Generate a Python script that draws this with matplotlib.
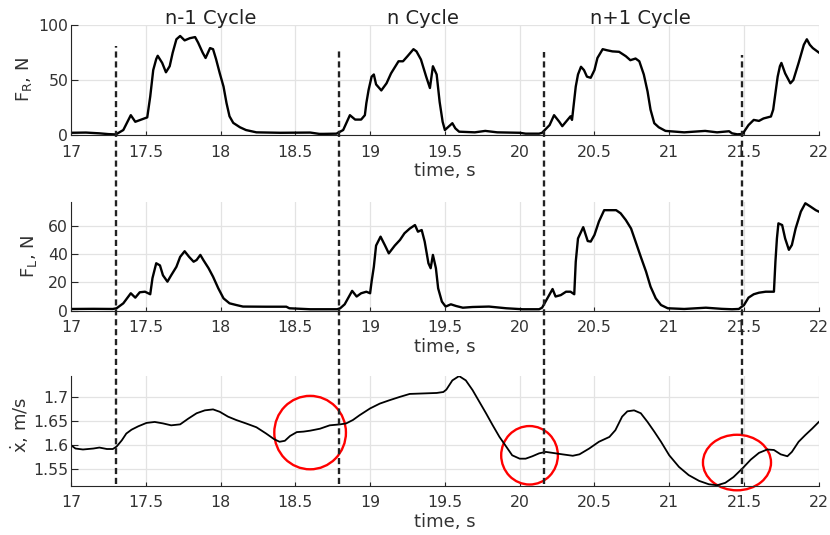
import matplotlib
matplotlib.use("Agg")
import matplotlib.pyplot as plt
from matplotlib.lines import Line2D
from matplotlib.patches import Ellipse
from matplotlib.transforms import blended_transform_factory

# fuerza pie derecho
t_fr = [17.0, 17.1, 17.19, 17.25, 17.3, 17.35, 17.40, 17.43, 17.47, 17.51, 17.53, 17.54, 17.55, 17.57, 17.58,
        17.61, 17.635, 17.66, 17.68, 17.705, 17.73, 17.76, 17.795, 17.83, 17.85, 17.88, 17.90, 17.93, 17.95,
        17.97, 17.995, 18.02, 18.04, 18.06, 18.085, 18.13, 18.17, 18.24, 18.4, 18.6, 18.66, 18.69, 18.775,
        18.82, 18.865, 18.90, 18.94, 18.965, 18.975, 18.99, 19.01, 19.025, 19.04, 19.075, 19.11, 19.14, 19.19,
        19.22, 19.25, 19.29, 19.31, 19.34, 19.375, 19.40, 19.42, 19.445, 19.465, 19.485, 19.50, 19.52, 19.55,
        19.57, 19.595, 19.7, 19.77, 19.85, 20.0, 20.04, 20.13, 20.15, 20.20, 20.23, 20.265, 20.285, 20.32,
        20.34, 20.35, 20.365, 20.375, 20.39, 20.41, 20.43, 20.45, 20.475, 20.50, 20.52, 20.555, 20.585, 20.62,
        20.665, 20.71, 20.74, 20.775, 20.80, 20.83, 20.855, 20.875, 20.90, 20.93, 20.975, 21.1, 21.24, 21.32,
        21.40, 21.42, 21.455, 21.49, 21.53, 21.565, 21.60, 21.63, 21.68, 21.695, 21.71, 21.725, 21.74, 21.75,
        21.775, 21.81, 21.83, 21.865, 21.90, 21.92, 21.94, 21.96, 22.0]
fr = [2, 2.2, 1.5, 0.8, 0.5, 4.5, 18, 12, 14, 16, 35, 47, 59, 69, 72,
      65.5, 57, 62.5, 74.7, 87, 90, 86, 88, 89, 84, 75, 70, 79, 78,
      69, 56, 44, 29, 17, 11, 7, 4.5, 2.4, 2, 2.2, 1, 1, 1.2,
      4.5, 18, 14, 14, 18, 29, 41, 53, 55, 46, 40.5, 47, 56, 67,
      67, 71.6, 78, 76, 68.6, 53, 42.7, 62.5, 55, 30, 12, 4.5, 7, 10.7,
      6, 3, 2.4, 3.7, 2.4, 2, 1.2, 1.2, 2, 9, 18, 12, 8, 13.7,
      17, 13.7, 32, 44, 55, 62, 59, 53, 52, 59, 70, 78, 77, 76,
      75.6, 71.6, 68, 69.5, 67, 55, 39.6, 23, 10.7, 7, 3.7, 2.4, 3.7, 2.4,
      3.4, 1.5, 0.6, 0.9, 9, 13.7, 12.8, 15, 16.8, 23, 38, 53, 62.5, 65.5,
      56, 47, 50, 65.5, 82, 87, 82, 79, 75]

# fuerza pie izquierdo
t_fl = [17.0, 17.15, 17.28, 17.305, 17.35, 17.40, 17.43, 17.46, 17.495, 17.53, 17.545, 17.57, 17.595, 17.615,
        17.645, 17.67, 17.705, 17.73, 17.76, 17.79, 17.82, 17.84, 17.865, 17.885, 17.92, 17.95, 17.985, 18.02,
        18.06, 18.105, 18.15, 18.3, 18.44, 18.46, 18.6, 18.78, 18.80, 18.83, 18.88, 18.91, 18.94, 18.975, 19.0,
        19.01, 19.025, 19.04, 19.07, 19.10, 19.125, 19.165, 19.20, 19.23, 19.265, 19.30, 19.32, 19.345, 19.365,
        19.39, 19.405, 19.42, 19.44, 19.455, 19.48, 19.505, 19.54, 19.575, 19.62, 19.685, 19.795, 19.91, 20.02,
        20.13, 20.15, 20.185, 20.22, 20.24, 20.275, 20.31, 20.34, 20.365, 20.375, 20.39, 20.425, 20.455, 20.475,
        20.50, 20.53, 20.565, 20.60, 20.645, 20.675, 20.71, 20.745, 20.775, 20.81, 20.845, 20.875, 20.91, 20.945,
        20.99, 21.1, 21.245, 21.35, 21.42, 21.465, 21.50, 21.53, 21.565, 21.60, 21.645, 21.70, 21.71, 21.72,
        21.73, 21.755, 21.775, 21.80, 21.82, 21.845, 21.88, 21.91, 21.945, 21.98, 22.0]
fl = [1.2, 1.3, 1.2, 1.7, 5.2, 12.3, 9.2, 13, 13.4, 11.6, 23, 33.5, 32, 25,
      20.5, 25, 31, 38, 42, 38, 34.6, 35.8, 39.4, 35.8, 30, 24, 15.8, 8.7,
      5.2, 4, 2.9, 2.8, 2.8, 1.7, 1, 1, 1.7, 4.5, 14, 10, 12.3, 13.4, 12.3,
      20.5, 31, 46, 52.3, 46, 40.5, 46, 50, 54.7, 58, 60.5, 55.8, 57, 48.8,
      33.5, 30, 39.4, 30, 15.8, 6.4, 2.9, 4.5, 3.3, 2.1, 2.6, 2.9, 1.7, 1,
      1, 2.1, 8.7, 15.3, 10, 11, 13.4, 13.4, 11.6, 34.6, 51, 59, 49.2, 48.8,
      53.5, 63, 71, 71, 71, 68.8, 64, 58, 48.8, 38, 27.6, 17, 8.7, 4,
      1.7, 1.2, 2.1, 1.3, 1, 1.2, 4, 9.2, 11.6, 12.7, 13.4, 13.4, 34.6, 51,
      61.7, 60.5, 51, 43, 46.4, 58, 70, 75.9, 73.5, 71, 70]

# velocidad
t_v = [17.0, 17.03, 17.08, 17.15, 17.19, 17.24, 17.28, 17.305, 17.34, 17.37, 17.405, 17.45, 17.505, 17.56,
       17.615, 17.67, 17.73, 17.785, 17.84, 17.895, 17.95, 17.995, 18.05, 18.105, 18.17, 18.24, 18.305, 18.36,
       18.395, 18.43, 18.465, 18.51, 18.555, 18.60, 18.665, 18.73, 18.80, 18.84, 18.885, 18.93, 19.0, 19.065,
       19.13, 19.20, 19.265, 19.355, 19.445, 19.49, 19.51, 19.55, 19.595, 19.64, 19.685, 19.73, 19.775, 19.82,
       19.865, 19.91, 19.95, 20.0, 20.04, 20.085, 20.13, 20.175, 20.22, 20.285, 20.355, 20.40, 20.465, 20.53,
       20.60, 20.64, 20.685, 20.72, 20.765, 20.81, 20.855, 20.90, 20.945, 21.0, 21.065, 21.13, 21.20, 21.265,
       21.32, 21.375, 21.43, 21.49, 21.545, 21.60, 21.655, 21.70, 21.745, 21.79, 21.82, 21.865, 21.91, 21.955, 22.0]
v = [1.600, 1.593, 1.591, 1.593, 1.595, 1.592, 1.592, 1.597, 1.610, 1.624, 1.632, 1.639, 1.646, 1.648,
     1.645, 1.641, 1.643, 1.655, 1.666, 1.672, 1.674, 1.669, 1.659, 1.652, 1.645, 1.637, 1.624, 1.612,
     1.607, 1.609, 1.619, 1.627, 1.628, 1.630, 1.634, 1.641, 1.643, 1.645, 1.652, 1.662, 1.676, 1.686,
     1.693, 1.700, 1.706, 1.707, 1.708, 1.710, 1.715, 1.734, 1.743, 1.734, 1.714, 1.690, 1.666, 1.641,
     1.617, 1.597, 1.579, 1.572, 1.572, 1.577, 1.583, 1.586, 1.584, 1.581, 1.578, 1.581, 1.593, 1.607,
     1.617, 1.631, 1.659, 1.670, 1.672, 1.666, 1.648, 1.628, 1.607, 1.579, 1.555, 1.538, 1.526, 1.519,
     1.517, 1.522, 1.534, 1.552, 1.570, 1.584, 1.591, 1.590, 1.581, 1.577, 1.586, 1.607, 1.621, 1.634, 1.648]

# eventos (lineas discontinuas) y ciclos
t_events = [17.30, 18.79, 20.166, 21.486]
event_tops = [0.914, 0.910, 0.903, 0.897]
cycle_labels = ["n-1 Cycle", "n Cycle", "n+1 Cycle"]
cycle_x = [17.936, 19.355, 20.81]

# circulos rojos (centro t, centro v, ancho, alto)
circ_t = [18.599, 20.066, 21.453]
circ_v = [1.626, 1.579, 1.564]
circ_w = [0.479, 0.379, 0.455]
circ_h = [0.152, 0.121, 0.115]

xticks = [17, 17.5, 18, 18.5, 19, 19.5, 20, 20.5, 21, 21.5, 22]
xtick_labels = ["17", "17.5", "18", "18.5", "19", "19.5", "20", "20.5", "21", "21.5", "22"]

txt = "#333333"
fig = plt.figure(figsize=(8.3, 5.35), dpi=100)
ax1 = fig.add_axes([0.0855, 0.7477, 0.901, 0.2056])
ax2 = fig.add_axes([0.0855, 0.4193, 0.901, 0.2037])
ax3 = fig.add_axes([0.0855, 0.0921, 0.901, 0.2050])

ax1.plot(t_fr, fr, color="black", lw=1.7)
ax2.plot(t_fl, fl, color="black", lw=1.7)
ax3.plot(t_v, v, color="black", lw=1.3)

ax1.set_ylim(0, 100)
ax1.set_yticks([0, 50, 100])
ax2.set_ylim(0, 77)
ax2.set_yticks([0, 20, 40, 60])
ax3.set_ylim(1.516, 1.743)
ax3.set_yticks([1.55, 1.6, 1.65, 1.7])
ax3.set_yticklabels(["1.55", "1.6", "1.65", "1.7"])

ylabels = ["F$_\\mathregular{R}$, N", "F$_\\mathregular{L}$, N", "$\\dot{\\mathregular{x}}$, m/s"]
ylab_x = [-0.05, -0.043, -0.053]
ylab_y = [0.5, 0.5, 0.55]
for i, ax in enumerate([ax1, ax2, ax3]):
    ax.set_xlim(17, 22)
    ax.set_xticks(xticks)
    ax.set_xticklabels(xtick_labels)
    ax.grid(True, color="#e3e3e3", lw=0.9)
    ax.set_axisbelow(True)
    for s in ["top", "right"]:
        ax.spines[s].set_visible(False)
    for s in ["left", "bottom"]:
        ax.spines[s].set_color("#262626")
        ax.spines[s].set_linewidth(0.8)
    ax.tick_params(axis="x", direction="in", length=3, width=0.8, pad=7,
                   labelsize=11.3, colors="#262626", labelcolor=txt)
    ax.tick_params(axis="y", direction="in", length=5, width=0.8, pad=2,
                   labelsize=11.3, colors="#262626", labelcolor=txt)
    ax.set_xlabel("time, s", fontsize=13, color=txt, labelpad=2)
    ax.set_ylabel(ylabels[i], fontsize=13, color=txt)
    ax.yaxis.set_label_coords(ylab_x[i], ylab_y[i])

# titulos de ciclo
tr = blended_transform_factory(ax1.transData, ax1.transAxes)
for x, lab in zip(cycle_x, cycle_labels):
    ax1.text(x, 1.01, lab, transform=tr, ha="center", va="baseline", fontsize=14, color="#222222")

# lineas discontinuas que cruzan los tres paneles
trf = blended_transform_factory(ax3.transData, fig.transFigure)
for te, top in zip(t_events, event_tops):
    fig.add_artist(Line2D([te, te], [0.0953, top], transform=trf, color="#222222",
                          lw=1.7, linestyle=(0, (2.6, 1.6))))

# circulos rojos
for ct, cv, cw, ch in zip(circ_t, circ_v, circ_w, circ_h):
    ax3.add_patch(Ellipse((ct, cv), cw, ch, fill=False, edgecolor="#ff0000", lw=1.7, clip_on=False))

plt.savefig("out.png", dpi=100)
